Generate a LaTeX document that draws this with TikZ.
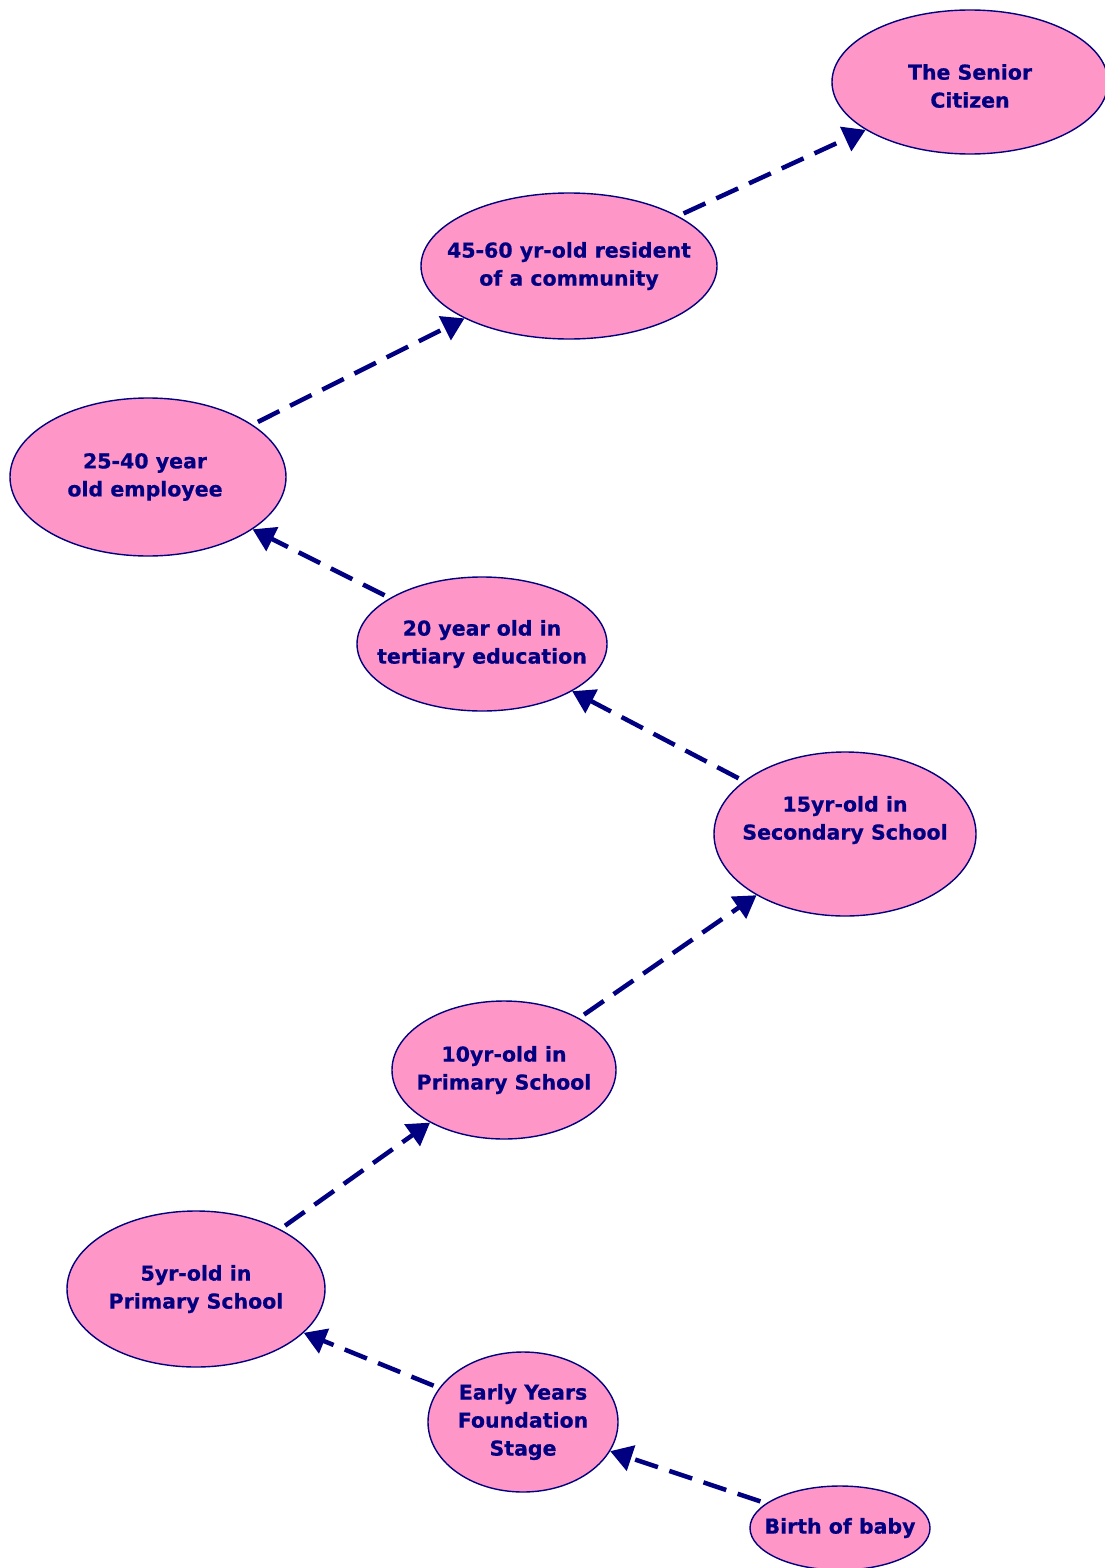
\documentclass[tikz,border=0pt]{standalone}
\usepackage{fontspec}
\setmainfont{DejaVu Sans}[BoldFeatures={FakeBold=0.6}]
\usepackage{tikz}
\usetikzlibrary{shapes.geometric,arrows.meta}
\usepackage{xcolor}
\definecolor{StagePink}{HTML}{FF96C8}
\definecolor{StageNavy}{HTML}{000080}

\begin{document}
\begin{tikzpicture}[x=1pt,y=1pt,
    stage/.style={ellipse,draw=StageNavy,line width=1.4pt,fill=StagePink,inner sep=0pt},
    stagetext/.style={text=StageNavy,font=\fontsize{20.5}{28}\selectfont\bfseries,align=center},
    growth/.style={draw=StageNavy,line width=4.5pt,dash pattern=on 24pt off 12pt,
      -{Triangle[length=22pt,width=26pt]},shorten <=6pt}]
    \useasboundingbox (0,0) rectangle (1105,-1568);

    \node[stage,minimum width=276pt,minimum height=144pt,
      label={[stagetext,yshift=-4pt]center:The Senior\\Citizen}] (senior) at (970,-82) {};
    \node[stage,minimum width=296pt,minimum height=146pt,
      label={[stagetext]center:45-60 yr-old resident\\of a community}] (resident) at (569,-266) {};
    \node[stage,minimum width=276pt,minimum height=158pt,
      label={[stagetext,xshift=-3pt]center:25-40 year\\old employee}] (employee) at (148,-477) {};
    \node[stage,minimum width=250pt,minimum height=134pt,
      label={[stagetext]center:20 year old in\\tertiary education}] (tertiary) at (482,-644) {};
    \node[stage,minimum width=262pt,minimum height=164pt,
      label={[stagetext,yshift=14pt]center:15yr-old in\\Secondary School}] (secondary) at (845,-834) {};
    \node[stage,minimum width=224pt,minimum height=138pt,
      label={[stagetext]center:10yr-old in\\Primary School}] (primaryten) at (504,-1070) {};
    \node[stage,minimum width=258pt,minimum height=156pt,
      label={[stagetext]center:5yr-old in\\Primary School}] (primaryfive) at (196,-1289) {};
    \node[stage,minimum width=190pt,minimum height=140pt,
      label={[stagetext]center:Early Years\\Foundation\\Stage}] (early) at (523,-1422) {};
    \node[stage,minimum width=180pt,minimum height=84pt,
      label={[stagetext]center:Birth of baby}] (birth) at (840,-1528) {};

    \draw[growth] (birth) -- (early);
    \draw[growth] (early) -- (primaryfive);
    \draw[growth] (primaryfive) -- (primaryten);
    \draw[growth] (primaryten) -- (secondary);
    \draw[growth] (secondary) -- (tertiary);
    \draw[growth] (tertiary) -- (employee);
    \draw[growth] (employee) -- (resident);
    \draw[growth] (resident) -- (senior);
\end{tikzpicture}
\end{document}
